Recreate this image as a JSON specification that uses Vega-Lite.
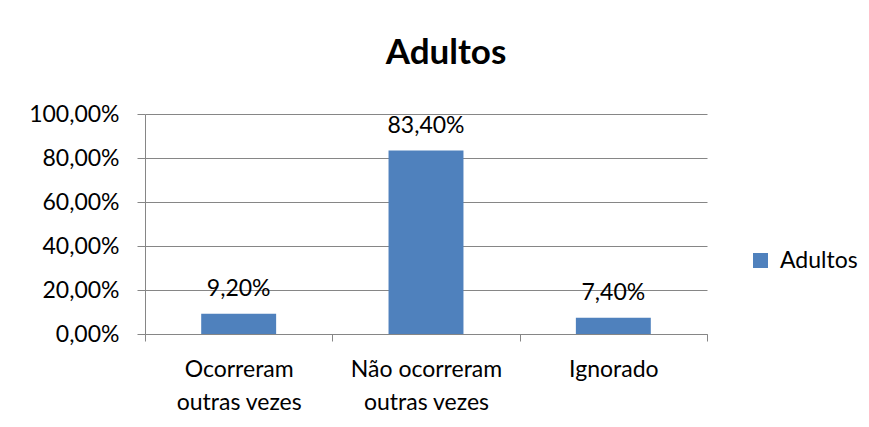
{
  "$schema": "https://vega.github.io/schema/vega-lite/v6.json",
  "width": 562,
  "height": 220,
  "autosize": {"type": "none"},
  "padding": {"left": 145, "top": 114, "right": 162, "bottom": 93},
  "background": "white",
  "title": {"text": "Adultos", "font": "Lato", "fontSize": 35, "fontWeight": "bold", "color": "black", "anchor": "middle", "dx": 20, "offset": 32},
  "data": {"values": [
    {"categoria": "Ocorreram outras vezes", "serie": "Adultos", "valor": 0.092},
    {"categoria": "Não ocorreram outras vezes", "serie": "Adultos", "valor": 0.834},
    {"categoria": "Ignorado", "serie": "Adultos", "valor": 0.074}
  ]},
  "encoding": {
    "x": {
      "field": "categoria", "type": "nominal", "sort": null,
      "scale": {"paddingInner": 0, "paddingOuter": 0},
      "axis": {
        "title": null, "labelAngle": 0, "tickBand": "extent", "grid": false,
        "domainColor": "#868686", "tickColor": "#868686", "tickSize": 7,
        "labelFont": "Lato", "labelFontSize": 23, "labelColor": "black",
        "labelPadding": 17, "labelLineHeight": 33,
        "labelExpr": "indexof(datum.label, ' outras vezes') > 0 ? [replace(datum.label, ' outras vezes', ''), 'outras vezes'] : datum.label"
      }
    },
    "y": {
      "field": "valor", "type": "quantitative",
      "scale": {"domain": [0, 1]},
      "axis": {
        "title": null, "values": [0, 0.2, 0.4, 0.6, 0.8, 1], "format": ".2%",
        "grid": true, "gridColor": "#868686", "domainColor": "#868686", "tickColor": "#868686",
        "tickSize": 8, "labelPadding": 18,
        "labelFont": "Lato", "labelFontSize": 23, "labelColor": "black"
      }
    }
  },
  "layer": [
    {
      "mark": {"type": "bar", "width": {"band": 0.4}},
      "encoding": {
        "color": {
          "field": "serie", "type": "nominal",
          "scale": {"range": ["#4F81BD"]},
          "legend": {
            "title": null, "orient": "none", "legendX": 604, "legendY": 135,
            "symbolType": "square", "symbolSize": 225, "symbolStrokeWidth": 0,
            "labelFont": "Lato", "labelFontSize": 23, "labelColor": "black", "labelOffset": 8
          }
        }
      }
    },
    {
      "mark": {"type": "text", "baseline": "alphabetic", "dy": -18, "font": "Lato", "fontSize": 23, "color": "black"},
      "encoding": {"text": {"field": "valor", "type": "quantitative", "format": ".2%"}}
    }
  ],
  "config": {
    "view": {"stroke": null},
    "font": "Lato",
    "locale": {"number": {"decimal": ",", "thousands": ".", "grouping": [3], "currency": ["R$", ""]}}
  }
}
